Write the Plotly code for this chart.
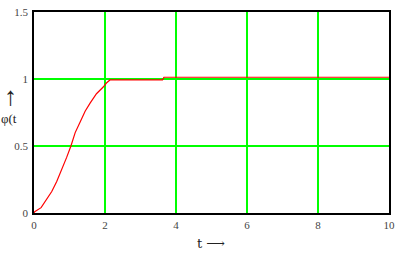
import plotly.graph_objects as go

t_vals = [0.0, 0.02, 0.2, 0.36, 0.5, 0.64, 0.78, 0.92, 1.04, 1.16, 1.30, 1.44, 1.58, 1.76, 1.95, 2.04, 2.14, 2.6, 3.0, 3.62, 3.66, 5.0, 7.0, 10.0]
phi_vals = [0.0, 0.01, 0.04, 0.10, 0.16, 0.235, 0.32, 0.415, 0.50, 0.60, 0.68, 0.76, 0.82, 0.89, 0.94, 0.97, 0.993, 0.994, 0.994, 0.994, 1.013, 1.013, 1.013, 1.013]

x_ticks = [0, 2, 4, 6, 8, 10]
y_ticks = [0, 0.5, 1, 1.5]
y_ticktext = ["0", "0.5", "1", "1.5"]

GREEN = "#00ff00"
FONT = dict(family="Liberation Serif", size=11, color="#444444")
LABEL_COLOR = "#222222"

fig = go.Figure()
fig.add_trace(go.Scatter(x=t_vals, y=phi_vals, mode="lines",
                         line=dict(color="#ff0000", width=1.2), showlegend=False))

fig.update_layout(
    width=401, height=256,
    margin=dict(l=34, r=7, t=6, b=43),
    paper_bgcolor="white", plot_bgcolor="white",
    xaxis=dict(range=[0, 10], tickvals=x_ticks, showgrid=True, gridcolor=GREEN, gridwidth=1.5,
               showline=True, linecolor="black", linewidth=1.5, mirror=True,
               zeroline=False, ticks="", tickfont=FONT, ticklabelstandoff=1),
    yaxis=dict(range=[0, 1.5], tickvals=y_ticks, ticktext=y_ticktext, showgrid=True,
               gridcolor=GREEN, gridwidth=1.5,
               showline=True, linecolor="black", linewidth=1.5, mirror=True,
               zeroline=False, ticks="", tickfont=FONT, ticklabelstandoff=2),
    annotations=[
        dict(text="↑", xref="paper", yref="paper", x=(10 - 34) / 360, y=(213 - 92) / 207,
             showarrow=False, font=dict(family="Liberation Sans", size=26, color=LABEL_COLOR),
             xanchor="center", yanchor="middle"),
        dict(text="φ(t", xref="paper", yref="paper", x=(9 - 34) / 360, y=(213 - 116) / 207,
             showarrow=False, font=dict(family="Liberation Serif", size=13, color=LABEL_COLOR),
             xanchor="center", yanchor="middle"),
        dict(text="t ⟶", xref="paper", yref="paper", x=(213.5 - 34) / 360, y=(213 - 244) / 207,
             showarrow=False, font=dict(family="DejaVu Serif", size=13, color=LABEL_COLOR),
             xanchor="center", yanchor="middle"),
    ],
)

fig.write_html("out.html")
